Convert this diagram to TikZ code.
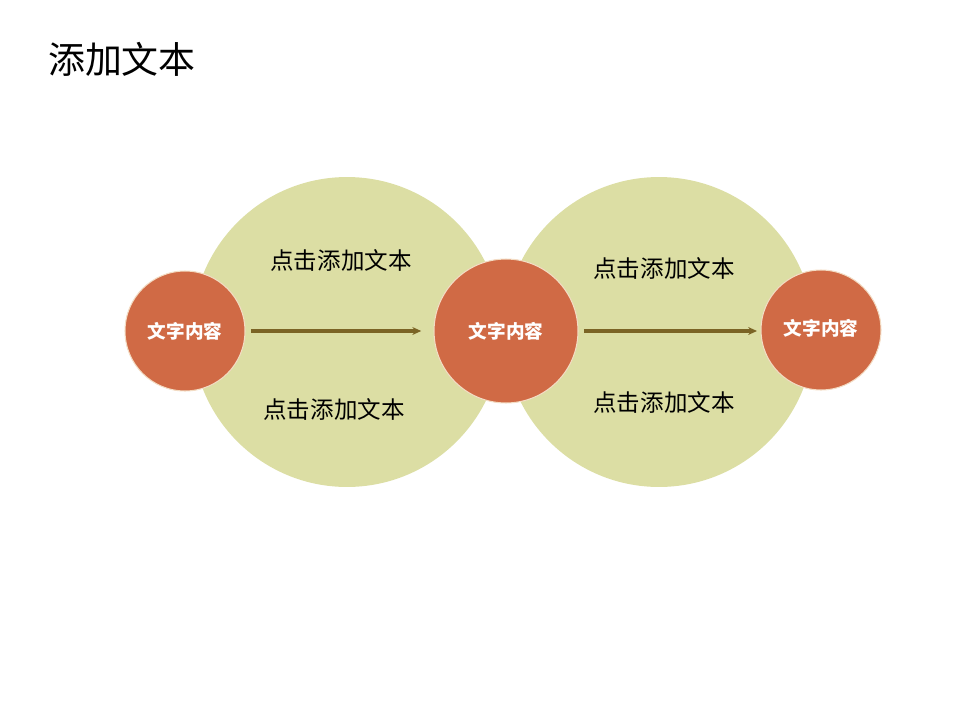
\documentclass[tikz,border=0pt]{standalone}
\usepackage{fontspec}
\setmainfont{Noto Sans CJK SC}
\usetikzlibrary{arrows.meta, positioning}

\definecolor{leafgreen}{HTML}{DCDEA4}
\definecolor{rust}{HTML}{D06A45}
\definecolor{rustedge}{HTML}{F3DCC4}
\definecolor{olivebrown}{HTML}{7B6425}

\begin{document}
\begin{tikzpicture}[
    x=0.02cm, y=-0.02cm,
    bigdisc/.style={circle, fill=leafgreen, minimum size=6.2cm, inner sep=0pt},
    hub/.style={circle, fill=rust, draw=rustedge, line width=0.6pt, inner sep=0pt,
        text=white, font=\fontsize{10.6}{12}\selectfont\bfseries},
    note/.style={font=\fontsize{13.4}{16}\selectfont, text=black},
    flow/.style={-{Stealth[length=5pt,width=4.5pt]}, draw=olivebrown, line width=1.8pt}
]
\useasboundingbox (0,0) rectangle (960,720);

% ============= TITLE =============
\node[anchor=west, font=\fontsize{21}{24}\selectfont] (title) at (42,59) {添加文本};

% ============= BACKGROUND DISCS =============
\node[bigdisc] (leftdisc) at (347,332) {};
\node[bigdisc] (rightdisc) at (659,332) {};

% Disc texts
\node[note] (noteA) at (341,260) {点击添加文本};
\node[note] (noteB) at (334,409) {点击添加文本};
\node[note] (noteC) at (664,268) {点击添加文本};
\node[note] (noteD) at (664,402) {点击添加文本};

% ============= HUBS =============
\node[hub, minimum size=2.4cm] (hubleft) at (185,331) {文字内容};
\node[hub, minimum size=2.88cm] (hubmid) at (506,331) {文字内容};
\node[hub, minimum size=2.4cm] (hubright) at (821,330) {\raisebox{3pt}{文字内容}};

% Arrows between hubs
\draw[flow, shorten <=3pt, shorten >=7pt] (hubleft.east) -- (hubleft.east -| hubmid.west);
\draw[flow, shorten <=3pt, shorten >=2pt] (hubmid.east) -- (hubmid.east -| hubright.west);

\end{tikzpicture}
\end{document}
